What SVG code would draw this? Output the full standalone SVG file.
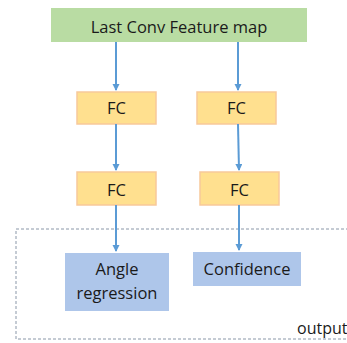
<svg xmlns="http://www.w3.org/2000/svg" width="347" height="343" viewBox="0 0 347 343">
<defs>
<marker id="ah" markerWidth="8" markerHeight="8" refX="6" refY="3.5" orient="auto" markerUnits="userSpaceOnUse">
<path d="M0,0 L7,3.5 L0,7 z" fill="#5b9bd5"/>
</marker>
<style>
text{font-family:"Open Sans","Liberation Sans",sans-serif;fill:#1a1a1a;text-anchor:middle;font-size:16.5px}
.fc{fill:#ffe08f;stroke:#f8c99a;stroke-width:1.5}
.out{fill:#aec6ea}
.c line{stroke:#5b9bd5;stroke-width:2;marker-end:url(#ah)}
</style>
</defs>
<rect width="347" height="343" fill="#fff"/>
<rect x="16" y="229" width="340" height="110" fill="none" stroke="#8a97a8" stroke-width="1" stroke-dasharray="3,2"/>
<text x="297" y="334" style="text-anchor:start;font-size:16px">output</text>
<g id="feature"><rect x="51" y="8" width="256" height="34" fill="#b9dca3"/><text x="179" y="33">Last Conv Feature map</text></g>
<g id="fc1l"><rect class="fc" x="77" y="92" width="79" height="32"/><text x="116.5" y="114">FC</text></g>
<g id="fc1r"><rect class="fc" x="197" y="92" width="79" height="32"/><text x="236.5" y="114">FC</text></g>
<g id="fc2l"><rect class="fc" x="77" y="172" width="79" height="33"/><text x="116.5" y="196">FC</text></g>
<g id="fc2r"><rect class="fc" x="200" y="172" width="79" height="33"/><text x="239.5" y="196">FC</text></g>
<g id="angle"><rect class="out" x="65" y="253" width="104" height="58"/><text x="117" y="275">Angle</text><text x="117" y="299">regression</text></g>
<g id="conf"><rect class="out" x="193" y="252" width="108" height="34"/><text x="247" y="275">Confidence</text></g>
<g class="c">
<line x1="116" y1="42" x2="116" y2="90"/>
<line x1="238" y1="42" x2="238" y2="90"/>
<line x1="116" y1="124" x2="116" y2="170"/>
<line x1="238" y1="124" x2="239" y2="170"/>
<line x1="116" y1="205" x2="116" y2="251"/>
<line x1="239" y1="205" x2="239" y2="250"/>
</g>
</svg>
